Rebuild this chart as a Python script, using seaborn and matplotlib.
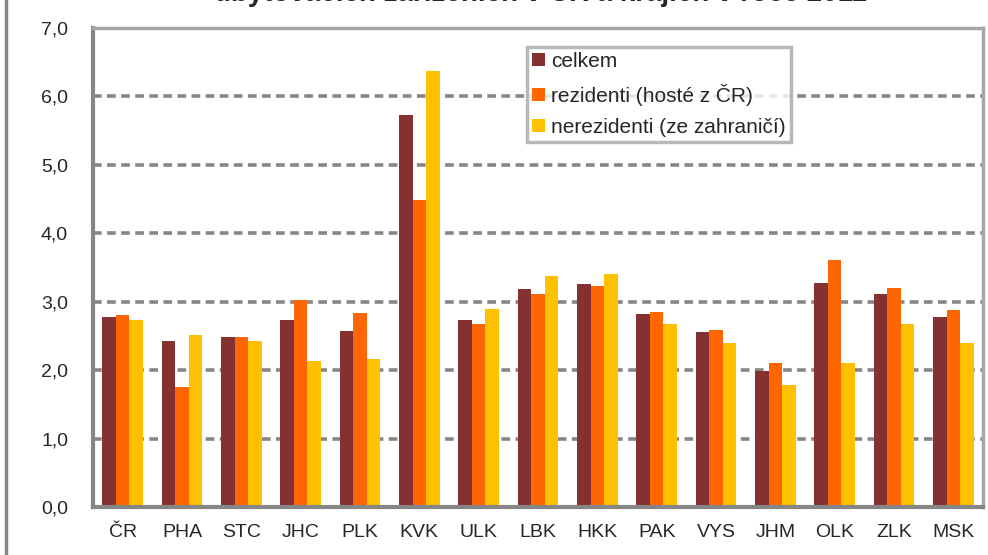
import seaborn as sns
import pandas as pd
import numpy as np
import matplotlib.pyplot as plt
from matplotlib.lines import Line2D
from matplotlib.ticker import FuncFormatter, FixedLocator

# kraje a prumerna doba pobytu (noci)
kraje = ["ČR", "PHA", "STC", "JHC", "PLK", "KVK", "ULK", "LBK",
         "HKK", "PAK", "VYS", "JHM", "OLK", "ZLK", "MSK"]
celkem = [2.77, 2.42, 2.48, 2.74, 2.57, 5.73, 2.74, 3.18,
          3.26, 2.82, 2.56, 1.99, 3.27, 3.12, 2.77]
rezidenti = [2.80, 1.75, 2.48, 3.03, 2.83, 4.49, 2.68, 3.12,
             3.23, 2.85, 2.59, 2.10, 3.61, 3.20, 2.88]
nerezidenti = [2.73, 2.51, 2.42, 2.13, 2.16, 6.37, 2.89, 3.38,
               3.41, 2.68, 2.39, 1.78, 2.10, 2.68, 2.39]
serie = ["celkem", "rezidenti (hosté z ČR)", "nerezidenti (ze zahraničí)"]
barvy = ["#833131", "#FF6600", "#FFC000"]

df = pd.DataFrame({
    "kraj": kraje * 3,
    "hodnota": celkem + rezidenti + nerezidenti,
    "serie": [serie[0]] * len(kraje) + [serie[1]] * len(kraje) + [serie[2]] * len(kraje),
})

sns.set_style("white")
plt.rcParams['font.family'] = ['Liberation Sans', 'DejaVu Sans']

fig = plt.figure(figsize=(9.88, 5.55), dpi=100)
ax = fig.add_axes([93 / 988, 1 - 507 / 555, (983 - 93) / 988, (507 - 28) / 555])

sns.barplot(data=df, x="kraj", y="hodnota", hue="serie", order=kraje,
            hue_order=serie, palette=barvy, width=0.68, gap=0,
            saturation=1, edgecolor="none", errorbar=None, ax=ax)

seda = "#868686"
svetla = "#A6A6A6"
ax.set_ylim(0, 7)
ax.set_xlim(-0.5, len(kraje) - 0.5)
ax.set_yticks(np.arange(0, 7.1, 1.0))
ax.yaxis.set_major_formatter(FuncFormatter(lambda v, p: f"{v:.1f}".replace(".", ",")))
ax.yaxis.grid(True, linestyle=(0, (2.4, 1.5)), color=seda, linewidth=2.6)
ax.set_axisbelow(True)
ax.set_xlabel("")
ax.set_ylabel("")

# carky mezi kategoriemi
ax.xaxis.set_minor_locator(FixedLocator(np.arange(-0.5, len(kraje), 1.0)))
ax.tick_params(axis="x", which="major", length=0, pad=12, labelsize=14)
ax.tick_params(axis="x", which="minor", length=6, width=2.5, color=seda, direction="out")
ax.tick_params(axis="y", length=6, width=2.5, color=seda, direction="out", labelsize=14, pad=12)

for s in ["left", "bottom"]:
    ax.spines[s].set_color(seda)
    ax.spines[s].set_linewidth(3)
for s in ["top", "right"]:
    ax.spines[s].set_color(svetla)
    ax.spines[s].set_linewidth(2.5)

leg = ax.legend(loc="upper left", bbox_to_anchor=((527 - 93) / 890, (507 - 47) / 479),
                fontsize=15, frameon=True, fancybox=False, handlelength=0.6,
                handleheight=0.6, handletextpad=0.3, labelspacing=0.6,
                borderpad=0.25, borderaxespad=0)
leg.get_frame().set_edgecolor(svetla)
leg.get_frame().set_linewidth(2.5)

# oriznuty nadpis (v originale je horni cast mimo obrazek)
fig.text(540 / 988, 1 - 1 / 555, "ubytovacích zařízeních v ČR a krajích v roce 2011",
         ha="center", va="baseline", fontsize=20, fontweight="bold")

# levy okraj grafu
fig.add_artist(Line2D([6 / 988, 6 / 988], [0, 1], transform=fig.transFigure,
                      color=seda, linewidth=2.5))

fig.savefig("out.png", dpi=100)
